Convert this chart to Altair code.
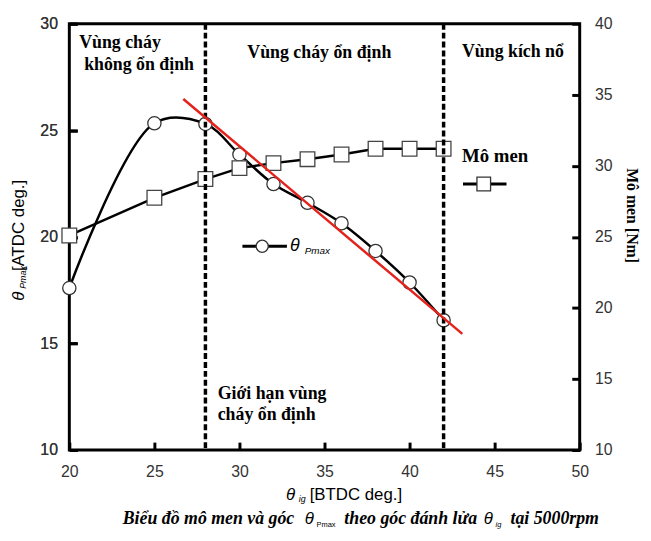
import altair as alt
import pandas as pd

# ---------------- data ----------------
ig = [20, 25, 28, 30, 32, 34, 36, 38, 40, 42]
theta_pmax = [17.6, 25.33, 25.3, 23.87, 22.48, 21.6, 20.64, 19.34, 17.86, 16.09]
torque = [25.1, 27.75, 29.07, 29.84, 30.19, 30.47, 30.8, 31.2, 31.2, 31.2]
trend_x = [26.7, 43.1]
trend_y = [26.47, 15.45]
limit_x = [28, 42]
x_ticks = [20, 25, 30, 35, 40, 45, 50]
left_ticks = [10, 15, 20, 25, 30]
right_ticks = [10, 15, 20, 25, 30, 35, 40]

W, H = 516, 431
OX, OY = 70, 21  # page position of plot origin

xs = alt.Scale(domain=[20, 50], nice=False, zero=False)
yl = alt.Scale(domain=[10, 30], nice=False, zero=False)
yr = alt.Scale(domain=[10, 40], nice=False, zero=False)

tick_style = dict(tickSize=8, tickWidth=3, tickColor="black", domain=False, grid=False, labelFlush=False,
                  labelFont="Liberation Sans", labelFontSize=16, labelColor="#333", title=None)
xaxis = alt.Axis(values=x_ticks, offset=-8, labelPadding=14, **tick_style)
laxis = alt.Axis(values=left_ticks, orient="left", offset=-8, labelPadding=12, **tick_style)
raxis = alt.Axis(values=right_ticks, orient="right", offset=-8, labelPadding=15, **tick_style)


def X(f):
    return alt.X(f, type="quantitative", scale=xs, axis=xaxis)


left_df = pd.DataFrame({"ig": ig, "tp": theta_pmax})
right_df = pd.DataFrame({"ig": ig, "tq": torque})
trend_df = pd.DataFrame({"x": trend_x, "y": trend_y})
limit_df = pd.DataFrame({"x": limit_x})
one = pd.DataFrame({"a": [0]})

YL = lambda f: alt.Y(f, type="quantitative", scale=yl, axis=laxis)
YR = lambda f: alt.Y(f, type="quantitative", scale=yr, axis=raxis)

tp_line = alt.Chart(left_df).mark_line(interpolate="catmull-rom", color="black", strokeWidth=2.5).encode(
    x=X("ig"), y=YL("tp"))
tp_pts = alt.Chart(left_df).mark_point(shape="circle", filled=True, fill="white", stroke="#333",
                                        strokeWidth=1.3, size=180, opacity=1).encode(x=X("ig"), y=YL("tp"))
limits = alt.Chart(limit_df).mark_rule(color="black", strokeWidth=3.5, strokeDash=[6, 3]).encode(x=X("x"))
trend = alt.Chart(trend_df).mark_line(color="#e3221c", strokeWidth=2.5).encode(x=X("x"), y=YL("y"))

tq_line = alt.Chart(right_df).mark_line(color="black", strokeWidth=2.5).encode(x=X("ig"), y=YR("tq"))
tq_pts = alt.Chart(right_df).mark_point(shape="square", filled=True, fill="white", stroke="#444",
                                        strokeWidth=1.3, size=220, opacity=1).encode(x=X("ig"), y=YR("tq"))


def txt(s, px, py, size=18, font="Liberation Serif", weight="bold", style="normal", angle=0):
    return alt.Chart(one).mark_text(text=s, font=font, fontSize=size, fontWeight=weight, fontStyle=style,
                                    angle=angle, align="left", baseline="alphabetic", color="black").encode(
        x=alt.value(px - OX), y=alt.value(py - OY))


def hline(px1, px2, py):
    return alt.Chart(one).mark_rule(color="black", strokeWidth=3).encode(
        x=alt.value(px1 - OX), x2=alt.value(px2 - OX), y=alt.value(py - OY))


def sym(shape, px, py, size):
    return alt.Chart(one).mark_point(shape=shape, filled=True, fill="white", stroke="#333", strokeWidth=1.3,
                                     size=size, opacity=1).encode(x=alt.value(px - OX), y=alt.value(py - OY))


SANS = "Liberation Sans"
annotations = [
    txt("Vùng cháy", 80, 46),
    txt("không ổn định", 85, 68),
    txt("Vùng cháy ổn định", 250, 56),
    txt("Vùng kích nổ", 467, 55),
    txt("Giới hạn vùng", 220, 400),
    txt("cháy ổn định", 220, 422),
    txt("Mô men", 467, 161, size=19),
    hline(468, 512, 183), sym("square", 489, 183, 190),
    hline(245, 290, 246), sym("circle", 265, 246, 150),
    txt("θ", 293, 251, size=18, font=SANS, weight="normal", style="italic"),
    txt("Pmax", 308, 254, size=10, font=SANS, weight="normal", style="italic"),
    # x-axis title
    txt("θ", 289, 503, size=17, font=SANS, weight="normal", style="italic"),
    txt("ig", 302, 505, size=9, font=SANS, weight="normal", style="italic"),
    txt("[BTDC deg.]", 313, 503, size=17, font=SANS, weight="normal"),
    # left axis title
    txt("θ", 24, 301, size=17, font=SANS, weight="normal", style="italic", angle=270),
    txt("Pmax", 26, 289, size=9, font=SANS, weight="normal", style="italic", angle=270),
    txt("[ATDC deg.]", 24, 271, size=17, font=SANS, weight="normal", angle=270),
    # right axis title
    txt("Mô men  [Nm]", 634, 167, size=16, angle=90),
    # caption
    txt("Biểu đồ mô men và góc", 124, 527, size=18, style="italic"),
    txt("θ", 308, 527, size=17, font=SANS, weight="normal", style="italic"),
    txt("Pmax", 320, 530, size=7.5, font=SANS, weight="normal"),
    txt("theo góc đánh lửa", 348, 527, size=18, style="italic"),
    txt("θ", 489, 527, size=17, font=SANS, weight="normal", style="italic"),
    txt("ig", 501, 530, size=7.5, font=SANS, weight="normal", style="italic"),
    txt("tại 5000rpm", 516, 527, size=18, style="italic"),
]

left_layer = alt.layer(tp_line, tp_pts, *annotations)
right_layer = alt.layer(tq_line, tq_pts)
top_layer = alt.layer(limits, trend)

chart = alt.layer(left_layer, right_layer, top_layer).resolve_scale(y="independent").properties(
    width=W, height=H,
    autosize=alt.AutoSizeParams(type="none"),
    padding={"left": 62, "top": 13, "right": 64, "bottom": 85},
    background="white",
).configure_view(stroke="black", strokeWidth=3)

chart.save("out.html", embed_options={"renderer": "svg", "actions": False})
